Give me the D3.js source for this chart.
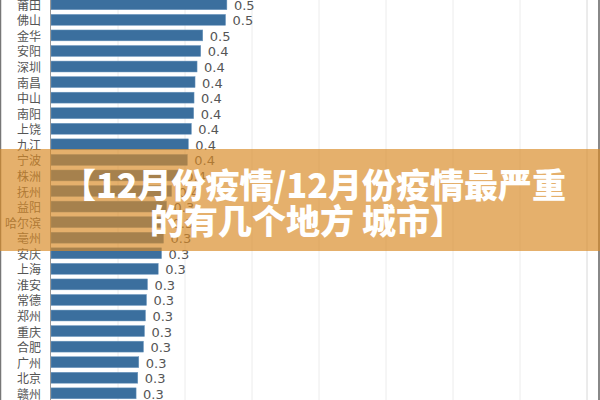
<!DOCTYPE html>
<html><head><meta charset="utf-8">
<script src="https://cdn.jsdelivr.net/npm/d3@7"></script>
<style>html,body{margin:0;padding:0;background:#fff;overflow:hidden}</style>
</head><body>
<svg id="c" width="600" height="400"></svg>
<script>
const cities = ["莆田","佛山","金华","安阳","深圳","南昌","中山","南阳","上饶","九江","宁波","株洲","抚州","益阳","哈尔滨","亳州","安庆","上海","淮安","常德","郑州","重庆","合肥","广州","北京","赣州"];
const values = [0.525,0.521,0.453,0.447,0.436,0.430,0.427,0.426,0.419,0.410,0.407,0.38,0.36,0.345,0.342,0.336,0.330,0.320,0.288,0.285,0.282,0.279,0.276,0.262,0.259,0.254];
const gridTicks = [0.2,0.4,0.6,0.8,1.0,1.2,1.4,1.6];
const titleLines = ["【12月份疫情/12月份疫情最严重","的有几个地方 城市】"];

const svg = d3.select("#c");
const x = d3.scaleLinear().domain([0,1.6]).range([51,587]);
const y = d3.scaleBand().domain(cities).range([-3.5,401.1]).paddingInner(0.3).paddingOuter(0.15);

// grid
svg.append("g").selectAll("line").data(gridTicks).join("line")
  .attr("x1",d=>x(d)).attr("x2",d=>x(d)).attr("y1",0).attr("y2",400)
  .attr("stroke",d=>d===1.6?"#d8d8d8":"#ececec").attr("stroke-width",1);

// frame edges
svg.append("line").attr("x1",0.5).attr("x2",0.5).attr("y1",0).attr("y2",400).attr("stroke","#777").attr("stroke-width",1.5);
svg.append("line").attr("x1",599).attr("x2",599).attr("y1",0).attr("y2",400).attr("stroke","#888").attr("stroke-width",2);

// bars
svg.append("g").selectAll("rect").data(cities).join("rect")
  .attr("x",x(0)).attr("y",d=>y(d))
  .attr("width",(d,i)=>x(values[i])-x(0)).attr("height",y.bandwidth())
  .attr("fill","#3b6f9e").attr("stroke","#6e98bf").attr("stroke-width",0.5);

// axis line
svg.append("line").attr("x1",x(0)-0.5).attr("x2",x(0)-0.5).attr("y1",0).attr("y2",400).attr("stroke","#999");

// category labels
svg.append("g").selectAll("text").data(cities).join("text")
  .attr("x",41).attr("y",d=>y(d)+y.bandwidth()/2)
  .attr("text-anchor","end").attr("dominant-baseline","central")
  .attr("font-family","'Noto Sans CJK SC', sans-serif").attr("font-size",12)
  .attr("fill","#555").text(d=>d);

// value labels
svg.append("g").selectAll("text").data(cities).join("text")
  .attr("x",(d,i)=>x(values[i])+7).attr("y",d=>y(d)+y.bandwidth()/2+1)
  .attr("dominant-baseline","central")
  .attr("font-family","'DejaVu Sans', Verdana, sans-serif").attr("font-size",13)
  .attr("fill","#555").text((d,i)=>d3.format(".1f")(values[i]));

// banner overlay
svg.append("rect").attr("x",0).attr("y",149).attr("width",600).attr("height",102)
  .attr("fill","rgb(216,138,38)").attr("opacity",0.68);

svg.append("g").selectAll("text").data(titleLines).join("text")
  .attr("x",(d,i)=>i===0?314:307).attr("y",(d,i)=>183+i*36)
  .attr("text-anchor","middle").attr("dominant-baseline","central")
  .attr("font-family","'Noto Sans CJK SC', sans-serif").attr("font-weight",900)
  .attr("font-size",34).attr("fill","#fff").text(d=>d);
</script>
</body></html>
